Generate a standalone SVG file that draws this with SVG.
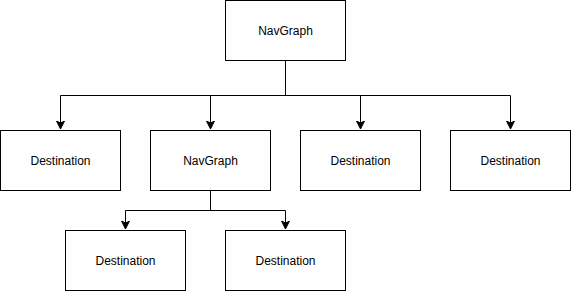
<svg xmlns="http://www.w3.org/2000/svg" width="571" height="291" viewBox="0 0 571 291">
<style>
.n rect{fill:#fff;stroke:#000;stroke-width:1}
.n text{font-family:"Liberation Sans",Arial,sans-serif;font-size:12px;fill:#000;text-anchor:middle;dominant-baseline:central}
.c path{fill:none;stroke:#000;stroke-width:1}
</style>
<defs>
<marker id="arr" markerUnits="userSpaceOnUse" markerWidth="10" markerHeight="10" refX="8" refY="4" orient="auto" viewBox="0 0 10 8">
<path d="M0,0 L8,4 L0,8 L2,4 Z" fill="#000" stroke="#000" stroke-width="1"/>
</marker>
</defs>
<rect width="571" height="291" fill="#fff"/>
<g id="connectors" class="c">
<path d="M285.5,60.5 V95.5 H60.5 V129" marker-end="url(#arr)"/>
<path d="M285.5,60.5 V95.5 H210.5 V129" marker-end="url(#arr)"/>
<path d="M285.5,60.5 V95.5 H360.5 V129" marker-end="url(#arr)"/>
<path d="M285.5,60.5 V95.5 H510.5 V129" marker-end="url(#arr)"/>
<path d="M210.5,190.5 V210.5 H125.5 V229" marker-end="url(#arr)"/>
<path d="M210.5,190.5 V210.5 H285.5 V229" marker-end="url(#arr)"/>
</g>
<g id="root" class="n"><rect x="225.5" y="0.5" width="120" height="60"/><text x="285.5" y="30.5">NavGraph</text></g>
<g id="dest1" class="n"><rect x="0.5" y="130.5" width="120" height="60"/><text x="60.5" y="160.5">Destination</text></g>
<g id="navgraph2" class="n"><rect x="150.5" y="130.5" width="120" height="60"/><text x="210.5" y="160.5">NavGraph</text></g>
<g id="dest2" class="n"><rect x="300.5" y="130.5" width="120" height="60"/><text x="360.5" y="160.5">Destination</text></g>
<g id="dest3" class="n"><rect x="450.5" y="130.5" width="120" height="60"/><text x="510.5" y="160.5">Destination</text></g>
<g id="dest4" class="n"><rect x="65.5" y="230.5" width="120" height="60"/><text x="125.5" y="260.5">Destination</text></g>
<g id="dest5" class="n"><rect x="225.5" y="230.5" width="120" height="60"/><text x="285.5" y="260.5">Destination</text></g>
</svg>
